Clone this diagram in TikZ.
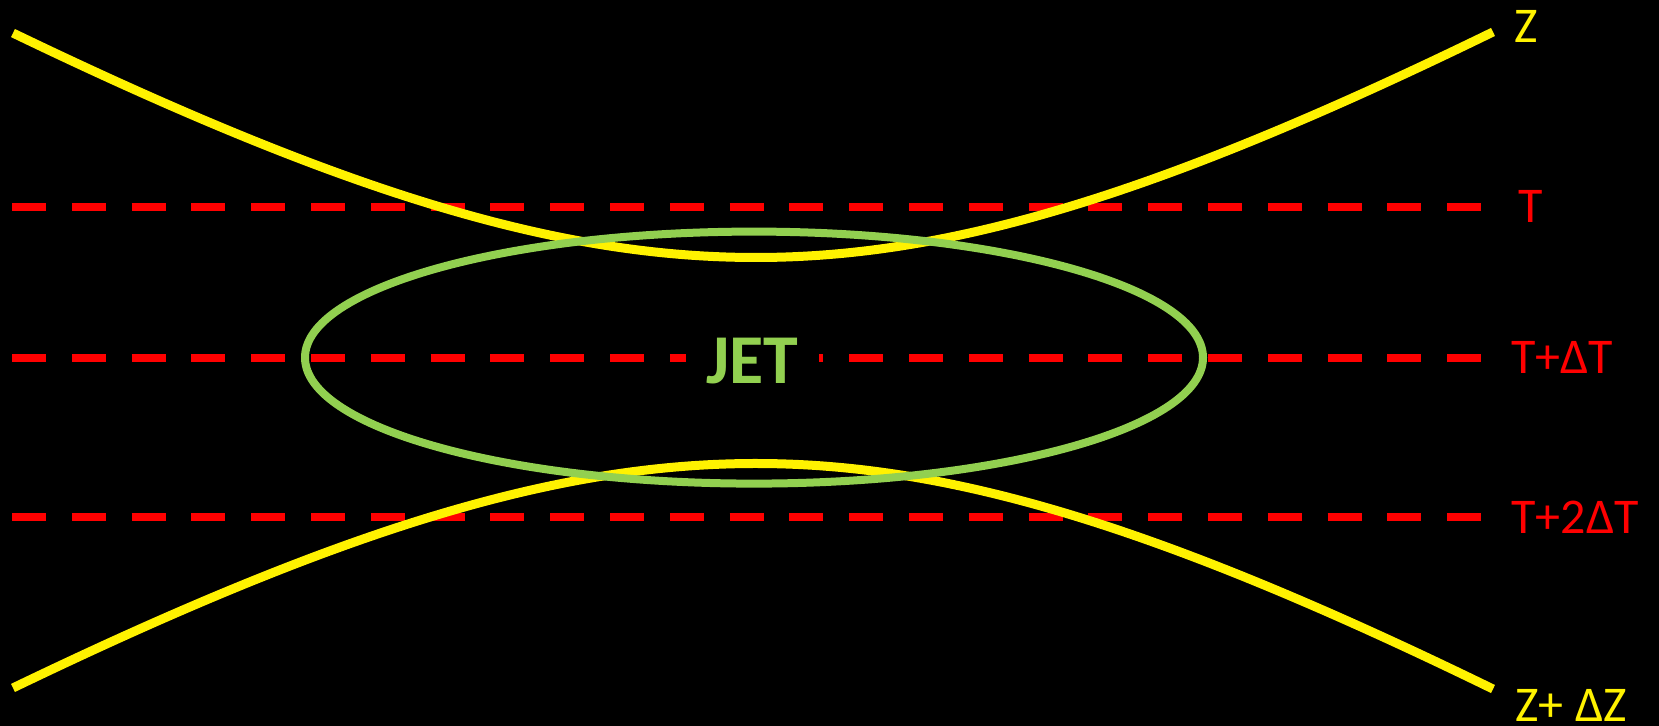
\documentclass[tikz,border=0pt]{standalone}
\usepackage{fontspec}
\setmainfont{Carlito}
\definecolor{jetgreen}{RGB}{146,208,80}
\begin{document}
\begin{tikzpicture}[x=0.5pt,y=-0.5pt,
  tline/.style={draw=red,line width=4pt,dash pattern=on 17pt off 12.9pt},
  zcurve/.style={draw=yellow,line width=4.5pt},
  jetring/.style={draw=jetgreen,line width=4pt},
  tlabel/.style={text=red,font=\fontsize{25}{30}\selectfont,anchor=base west,inner sep=0pt},
  zlabel/.style={text=yellow,font=\fontsize{25}{30}\selectfont,anchor=base west,inner sep=0pt},
  declare function={hk(\t)=(\t<0 ? 0.5983 : 0.605);
    hf(\t)=328*sqrt(1+(hk(\t)*\t/328)*(hk(\t)*\t/328))-328;}]
\fill[black] (0,0) rectangle (1659,726);
\useasboundingbox (0,0) rectangle (1659,726);
% dashed time lines
\coordinate (t1a) at (12,207.5); \coordinate (t1b) at (1481,207.5);
\coordinate (t2a) at (12,357.6); \coordinate (t2b) at (1481,357.6);
\coordinate (t3a) at (12,517.5); \coordinate (t3b) at (1481,517.5);
\draw[tline] (t1a) -- (t1b);
\draw[tline] (t2a) -- (t2b);
\draw[tline] (t3a) -- (t3b);
% yellow curves
\draw[zcurve,domain=-743:737,samples=181,smooth,variable=\t]
  plot ({756+\t},{257.5-hf(\t)});
\draw[zcurve,domain=-743:737,samples=181,smooth,variable=\t]
  plot ({756+\t},{463.5+hf(\t)});
% jet ellipse
\draw[jetring] (754,357.6) ellipse [x radius=449, y radius=126];
% JET label
\node[fill=black,text=jetgreen,font=\fontsize{35}{40}\selectfont\bfseries,
  anchor=base,minimum width=66.5pt,inner ysep=4pt] (jet) at (752,384) {JET};
% labels
\node[zlabel] (lz) at (1514,43) {Z};
\node[tlabel] (lt) at (1518,223) {T};
\node[tlabel] (ltdt) at (1511,374) {T+ΔT};
\node[tlabel] (lt2dt) at (1511,534) {T+2ΔT};
\node[zlabel] (lzdz) at (1515,721) {Z+ ΔZ};
\end{tikzpicture}
\end{document}
